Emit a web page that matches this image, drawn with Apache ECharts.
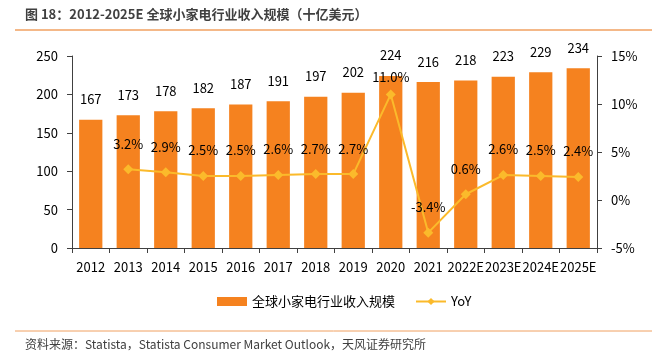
<!DOCTYPE html>
<html><head><meta charset="utf-8">
<script src="https://cdn.jsdelivr.net/npm/echarts@6/dist/echarts.min.js"></script>
<style>html,body{margin:0;padding:0;background:#fff}#c{width:654px;height:362px}</style>
</head><body><div id="c"></div>
<script>
const categories = ['2012','2013','2014','2015','2016','2017','2018','2019','2020','2021','2022E','2023E','2024E','2025E'];
const revenue = [167,173,178,182,187,191,197,202,224,216,218,223,229,234];
const yoy = [null,3.2,2.9,2.5,2.5,2.6,2.7,2.7,11.0,-3.4,0.6,2.6,2.5,2.4];
const leftTicks = [0,250,50];
const rightTicks = [-5,15,5];

const FONT = '"Noto Sans CJK SC","Noto Sans",sans-serif';
const chart = echarts.init(document.getElementById('c'));
chart.setOption({
  animation:false,
  textStyle:{fontFamily:FONT},
  graphic:[
    {type:'text',left:25,top:8,style:{text:'图 18：2012-2025E 全球小家电行业收入规模（十亿美元）',font:'bold 13px '+FONT,fill:'#404040'}},
    {type:'line',shape:{x1:15,y1:30,x2:652,y2:30},style:{stroke:'#F0A060',lineWidth:1.5}},
    {type:'line',shape:{x1:15,y1:331,x2:652,y2:331},style:{stroke:'#F0A060',lineWidth:1}},
    {type:'text',left:25,top:338,style:{text:'资料来源：Statista，Statista Consumer Market Outlook，天风证券研究所',font:'12px '+FONT,fill:'#404040'}}
  ],
  legend:{
    top:290,left:212,itemGap:20,
    textStyle:{fontSize:13,color:'#000',fontFamily:FONT},
    data:[{name:'全球小家电行业收入规模',icon:'rect',itemStyle:{color:'#F5821F'}},{name:'YoY'}],
    itemWidth:30,itemHeight:9
  },
  grid:{left:72,right:57,top:56,bottom:114},
  xAxis:{
    type:'category',data:categories,
    axisLine:{lineStyle:{color:'#404040'}},
    axisTick:{show:true,alignWithLabel:false,lineStyle:{color:'#404040'}},
    axisLabel:{color:'#000',fontSize:13,interval:0,margin:13}
  },
  yAxis:[
    {type:'value',min:leftTicks[0],max:leftTicks[1],interval:leftTicks[2],
     splitLine:{show:false},axisLine:{show:true,lineStyle:{color:'#404040'}},
     axisTick:{show:true,lineStyle:{color:'#404040'}},
     axisLabel:{color:'#000',fontSize:13,margin:14}},
    {type:'value',min:rightTicks[0],max:rightTicks[1],interval:rightTicks[2],
     splitLine:{show:false},axisLine:{show:true,lineStyle:{color:'#404040'}},
     axisTick:{show:true,lineStyle:{color:'#404040'}},
     axisLabel:{color:'#000',fontSize:13,margin:14,formatter:'{value}%'}}
  ],
  series:[
    {name:'全球小家电行业收入规模',type:'bar',data:revenue,barWidth:'62%',
     itemStyle:{color:'#F5821F'},
     label:{show:true,position:'top',distance:14,color:'#000',fontSize:13}},
    {name:'YoY',type:'line',yAxisIndex:1,data:yoy.map((v,i)=>i===8?{value:v,label:{distance:6}}:v),
     symbol:'diamond',symbolSize:10,
     lineStyle:{color:'#FBBA2B',width:2},itemStyle:{color:'#FBBA2B'},
     label:{show:true,position:'top',distance:14,color:'#000',fontSize:13,formatter:p=>p.value.toFixed(1)+'%'}}
  ]
});
</script></body></html>
